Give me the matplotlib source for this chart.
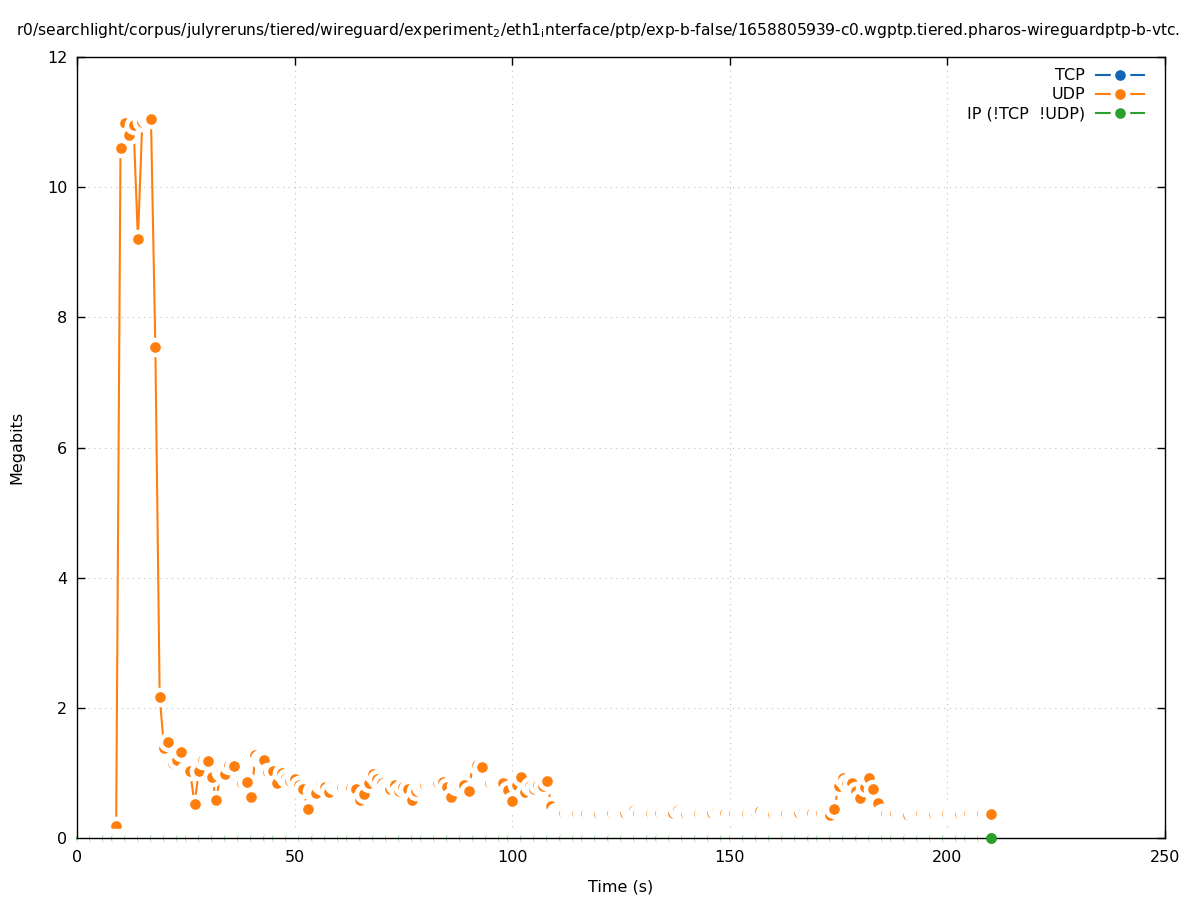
import matplotlib
matplotlib.use('Agg')
import matplotlib.pyplot as plt

# throughput per second
tcp_time = []
tcp_mbits = []

udp_time = list(range(9, 211))
udp_mbits = [
    0.18, 10.6, 10.98, 10.8, 10.95, 9.2, 11.0, 11.05, 11.05, 7.55,      # 9-18
    2.17, 1.38, 1.48, 1.16, 1.2, 1.32, 1.04, 1.03, 0.52, 1.03,          # 19-28
    1.2, 1.18, 0.94, 0.58, 1.02, 0.98, 1.12, 1.11, 0.87, 0.85,          # 29-38
    0.86, 0.63, 1.27, 1.22, 1.2, 1.02, 1.03, 0.84, 1.0, 0.92,           # 39-48
    0.88, 0.91, 0.82, 0.75, 0.44, 0.72, 0.69, 0.82, 0.78, 0.71,         # 49-58
    0.81, 0.79, 0.79, 0.78, 0.77, 0.76, 0.58, 0.68, 0.85, 0.99,         # 59-68
    0.9, 0.84, 0.78, 0.75, 0.81, 0.72, 0.78, 0.76, 0.58, 0.72,          # 69-78
    0.78, 0.81, 0.83, 0.85, 0.84, 0.86, 0.79, 0.63, 0.8, 0.78,          # 79-88
    0.81, 0.72, 1.16, 1.12, 1.09, 0.84, 0.85, 0.86, 0.85, 0.84,         # 89-98
    0.74, 0.57, 0.82, 0.94, 0.71, 0.8, 0.76, 0.82, 0.8, 0.87,           # 99-108
    0.49, 0.4,                                                          # 109-110
    0.39, 0.38, 0.38, 0.37, 0.38, 0.38, 0.39, 0.38, 0.38, 0.37,         # 111-120
    0.38, 0.38, 0.39, 0.38, 0.38, 0.38, 0.41, 0.43, 0.38, 0.38,         # 121-130
    0.37, 0.38, 0.38, 0.39, 0.38, 0.38, 0.38, 0.43, 0.38, 0.37,         # 131-140
    0.38, 0.38, 0.39, 0.38, 0.38, 0.38, 0.42, 0.38, 0.38, 0.37,         # 141-150
    0.38, 0.38, 0.38, 0.39, 0.38, 0.38, 0.41, 0.38, 0.38, 0.37,         # 151-160
    0.38, 0.38, 0.38, 0.39, 0.38, 0.38, 0.42, 0.38, 0.38, 0.37,         # 161-170
    0.38, 0.38, 0.36, 0.44, 0.8, 0.92, 0.85, 0.84, 0.72, 0.62,          # 171-180
    0.79, 0.92, 0.76, 0.54,                                             # 181-184
    0.38, 0.38, 0.39, 0.38, 0.38, 0.37, 0.36, 0.38, 0.38, 0.39,         # 185-194
    0.38, 0.38, 0.37, 0.38, 0.38, 0.39, 0.38, 0.38, 0.37, 0.38,         # 195-204
    0.39, 0.38, 0.38, 0.39, 0.38, 0.37,                                 # 205-210
]

ip_time = list(range(1, 211))
ip_mbits = [0.0] * len(ip_time)

labels = ['TCP', 'UDP', 'IP (!TCP  !UDP)']
colors = ['#1565b5', '#ff7f0e', '#2ca02c']

title = ('r0/searchlight/corpus/julyreruns/tiered/wireguard/experiment$_2$/'
         'eth1$_\\mathrm{i}$nterface/ptp/exp-b-false/1658805939-c0.wgptp.tiered.'
         'pharos-wireguardptp-b-vtc.')

fs = 11.5

fig = plt.figure(figsize=(11.97, 9.0), dpi=100)
ax = fig.add_axes([77 / 1197, 1 - 838 / 900, (1165 - 77) / 1197, (838 - 57) / 900])

style = dict(lw=1.5, marker='o', markersize=10.9, markeredgecolor='white',
             markeredgewidth=3.2, clip_on=False)
ax.plot(tcp_time, tcp_mbits, color=colors[0], label=labels[0], **style)
ax.plot(udp_time, udp_mbits, color=colors[1], label=labels[1], **style)
ax.plot(ip_time, ip_mbits, color=colors[2], label=labels[2], zorder=2, **style)
# the last IP point sits on top of the axis line
ax.plot(ip_time[-1:], ip_mbits[-1:], color=colors[2], lw=0, marker='o',
        markersize=7.6, markeredgewidth=0, clip_on=False, zorder=4)

ax.set_xlim(0, 250)
ax.set_ylim(0, 12)
ax.set_xticks(range(0, 251, 50))
ax.set_yticks(range(0, 13, 2))
ax.tick_params(direction='in', top=True, right=True, length=6, width=1,
               labelsize=fs, pad=7)
ax.tick_params(axis='x', pad=9)
ax.grid(True, linestyle=(0, (1, 4)), color='#c0c0c0', lw=0.8)
for s in ax.spines.values():
    s.set_linewidth(1)

ax.set_xlabel('Time (s)', fontsize=fs, labelpad=10)
ax.set_ylabel('Megabits', fontsize=fs, labelpad=16)
fig.text(0.5, 1 - 30 / 900, title, ha='center', va='center', fontsize=11.2)

ax.legend(loc='upper right', bbox_to_anchor=(0.991, 1.0), frameon=False,
          markerfirst=False, fontsize=fs, handlelength=3.0, labelspacing=0.25,
          borderaxespad=0.4, borderpad=0.3, handletextpad=0.7)

fig.savefig('out.png', dpi=100)
